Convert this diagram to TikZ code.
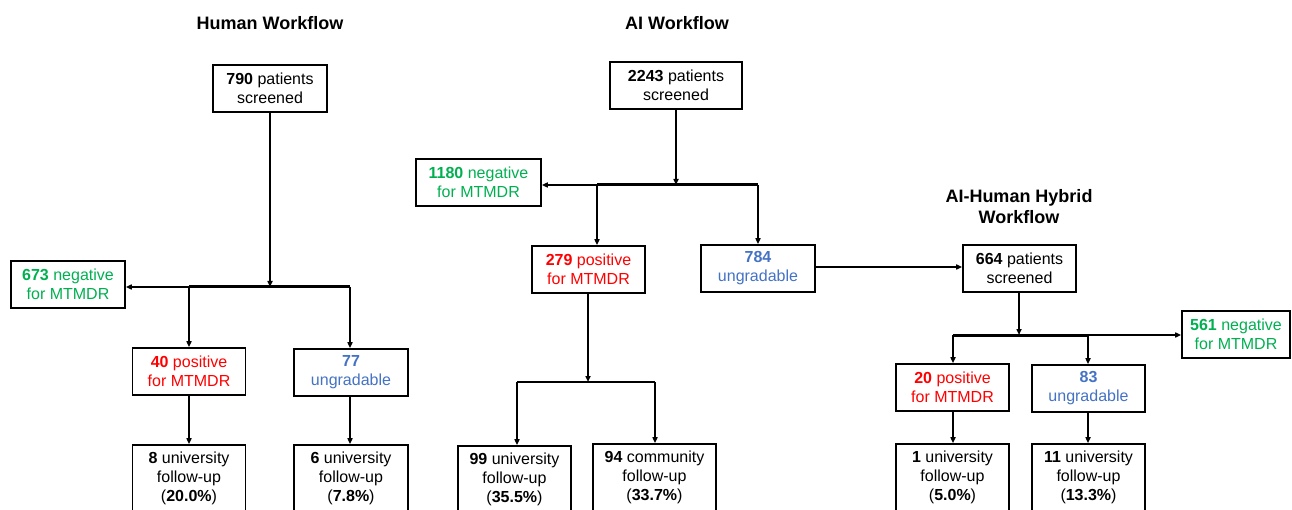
\documentclass[tikz,border=0pt]{standalone}
\usepackage{fontspec}
\setmainfont{Liberation Sans}
\usetikzlibrary{arrows.meta}
\definecolor{gr}{HTML}{00B050}
\definecolor{rd}{HTML}{FF0000}
\definecolor{bl}{HTML}{4472C4}
\begin{document}
\begin{tikzpicture}[x=1pt,y=-1pt,
  box/.style={draw,line width=1.6pt,inner sep=0pt,align=center,minimum height=47pt,font=\fontsize{16}{19}\selectfont},
  tall/.style={box,minimum height=67pt},
  ttl/.style={align=center,font=\bfseries\fontsize{18}{21}\selectfont,inner sep=0pt},
  conn/.style={line width=1.5pt,-{Triangle[length=6pt,width=5pt]}},
  plain/.style={line width=1.5pt},
  bar/.style={line width=3pt}]
\useasboundingbox (0,0) rectangle (1292,510);
\clip (0,0) rectangle (1292,510);
% titles
\node[ttl] (t1) at (270,23) {Human Workflow};
\node[ttl] (t2) at (677,23) {AI Workflow};
\node[ttl] (t3) at (1019,207) {AI-Human Hybrid\\Workflow};
% Human
\node[box,minimum width=114pt] (h790) at (270,88.5) {\textbf{790} patients\\screened};
\node[box,minimum width=114pt,text=gr] (h673) at (68,284.5) {\textbf{673} negative\\for MTMDR};
\node[box,minimum width=113pt,text=rd] (h40) at (189,371.5) {\textbf{40} positive\\for MTMDR};
\node[box,minimum width=114pt,text=bl] (h77) at (351,372.5) {\textbf{77}\\ungradable};
\node[tall,minimum width=113pt] (h8) at (189,478.5) {\textbf{8} university\\follow-up\\(\textbf{20.0\%})};
\node[tall,minimum width=114pt] (h6) at (351,478.5) {\textbf{6} university\\follow-up\\(\textbf{7.8\%})};
\coordinate (hj) at (270,287);
\coordinate (hl) at (189,287);
\coordinate (hr) at (350,287);
\draw[conn] (h790.south) -- (hj);
\draw[bar] (hl) -- (hr);
\draw[conn] (hl) -- (h673.east |- hl);
\draw[conn] (hl) -- (hl |- h40.north);
\draw[conn] (hr) -- (hr |- h77.north);
\draw[conn] (h40.south) -- (h8.north);
\draw[conn] (hr |- h77.south) -- (hr |- h6.north);
% AI
\node[box,minimum width=132pt] (a2243) at (676,85.5) {\textbf{2243} patients\\screened};
\node[box,minimum width=125pt,text=gr] (a1180) at (478.5,182.5) {\textbf{1180} negative\\for MTMDR};
\node[box,minimum width=113pt,text=rd] (a279) at (588.5,269.5) {\textbf{279} positive\\for MTMDR};
\node[box,minimum width=114pt,text=bl] (a784) at (758,268.5) {\textbf{784}\\ungradable};
\node[tall,minimum width=113pt] (a99) at (514.5,479.5) {\textbf{99} university\\follow-up\\(\textbf{35.5\%})};
\node[tall,minimum width=123pt] (a94) at (654.5,477.5) {\textbf{94} community\\follow-up\\(\textbf{33.7\%})};
\coordinate (aj) at (676,185);
\coordinate (al) at (597,185);
\coordinate (ar) at (758,185);
\draw[conn] (a2243.south) -- (aj);
\draw[bar] (al) -- (ar);
\draw[conn] (al) -- (a1180.east |- al);
\draw[conn] (al) -- (al |- a279.north);
\draw[conn] (ar) -- (ar |- a784.north);
\coordinate (bj) at (588,382);
\coordinate (bl) at (517,382);
\coordinate (br) at (655,382);
\draw[conn] (bj |- a279.south) -- (bj);
\draw[plain] (bl) -- (br);
\draw[conn] (bl) -- (bl |- a99.north);
\draw[conn] (br) -- (br |- a94.north);
% Hybrid
\node[box,minimum width=113pt] (b664) at (1019.5,268.5) {\textbf{664} patients\\screened};
\node[box,minimum width=108pt,text=gr] (b561) at (1236,334.5) {\textbf{561} negative\\for MTMDR};
\node[box,minimum width=113pt,text=rd] (b20) at (952.5,387.5) {\textbf{20} positive\\for MTMDR};
\node[box,minimum width=113pt,text=bl] (b83) at (1088.5,388.5) {\textbf{83}\\ungradable};
\node[tall,minimum width=113pt] (b1) at (952.5,477.5) {\textbf{1} university\\follow-up\\(\textbf{5.0\%})};
\node[tall,minimum width=113pt] (b11) at (1088.5,477.5) {\textbf{11} university\\follow-up\\(\textbf{13.3\%})};
\draw[conn] (a784.east |- 0,267) -- (b664.west |- 0,267);
\coordinate (cj) at (1019,335);
\coordinate (cl) at (953,335);
\coordinate (cr) at (1088,335);
\draw[conn] (cj |- b664.south) -- (cj);
\draw[bar] (cl) -- (cr);
\draw[conn] (cr) -- (b561.west |- cr);
\draw[conn] (cl) -- (cl |- b20.north);
\draw[conn] (cr) -- (cr |- b83.north);
\draw[conn] (cl |- b20.south) -- (cl |- b1.north);
\draw[conn] (cr |- b83.south) -- (cr |- b11.north);
\end{tikzpicture}
\end{document}
